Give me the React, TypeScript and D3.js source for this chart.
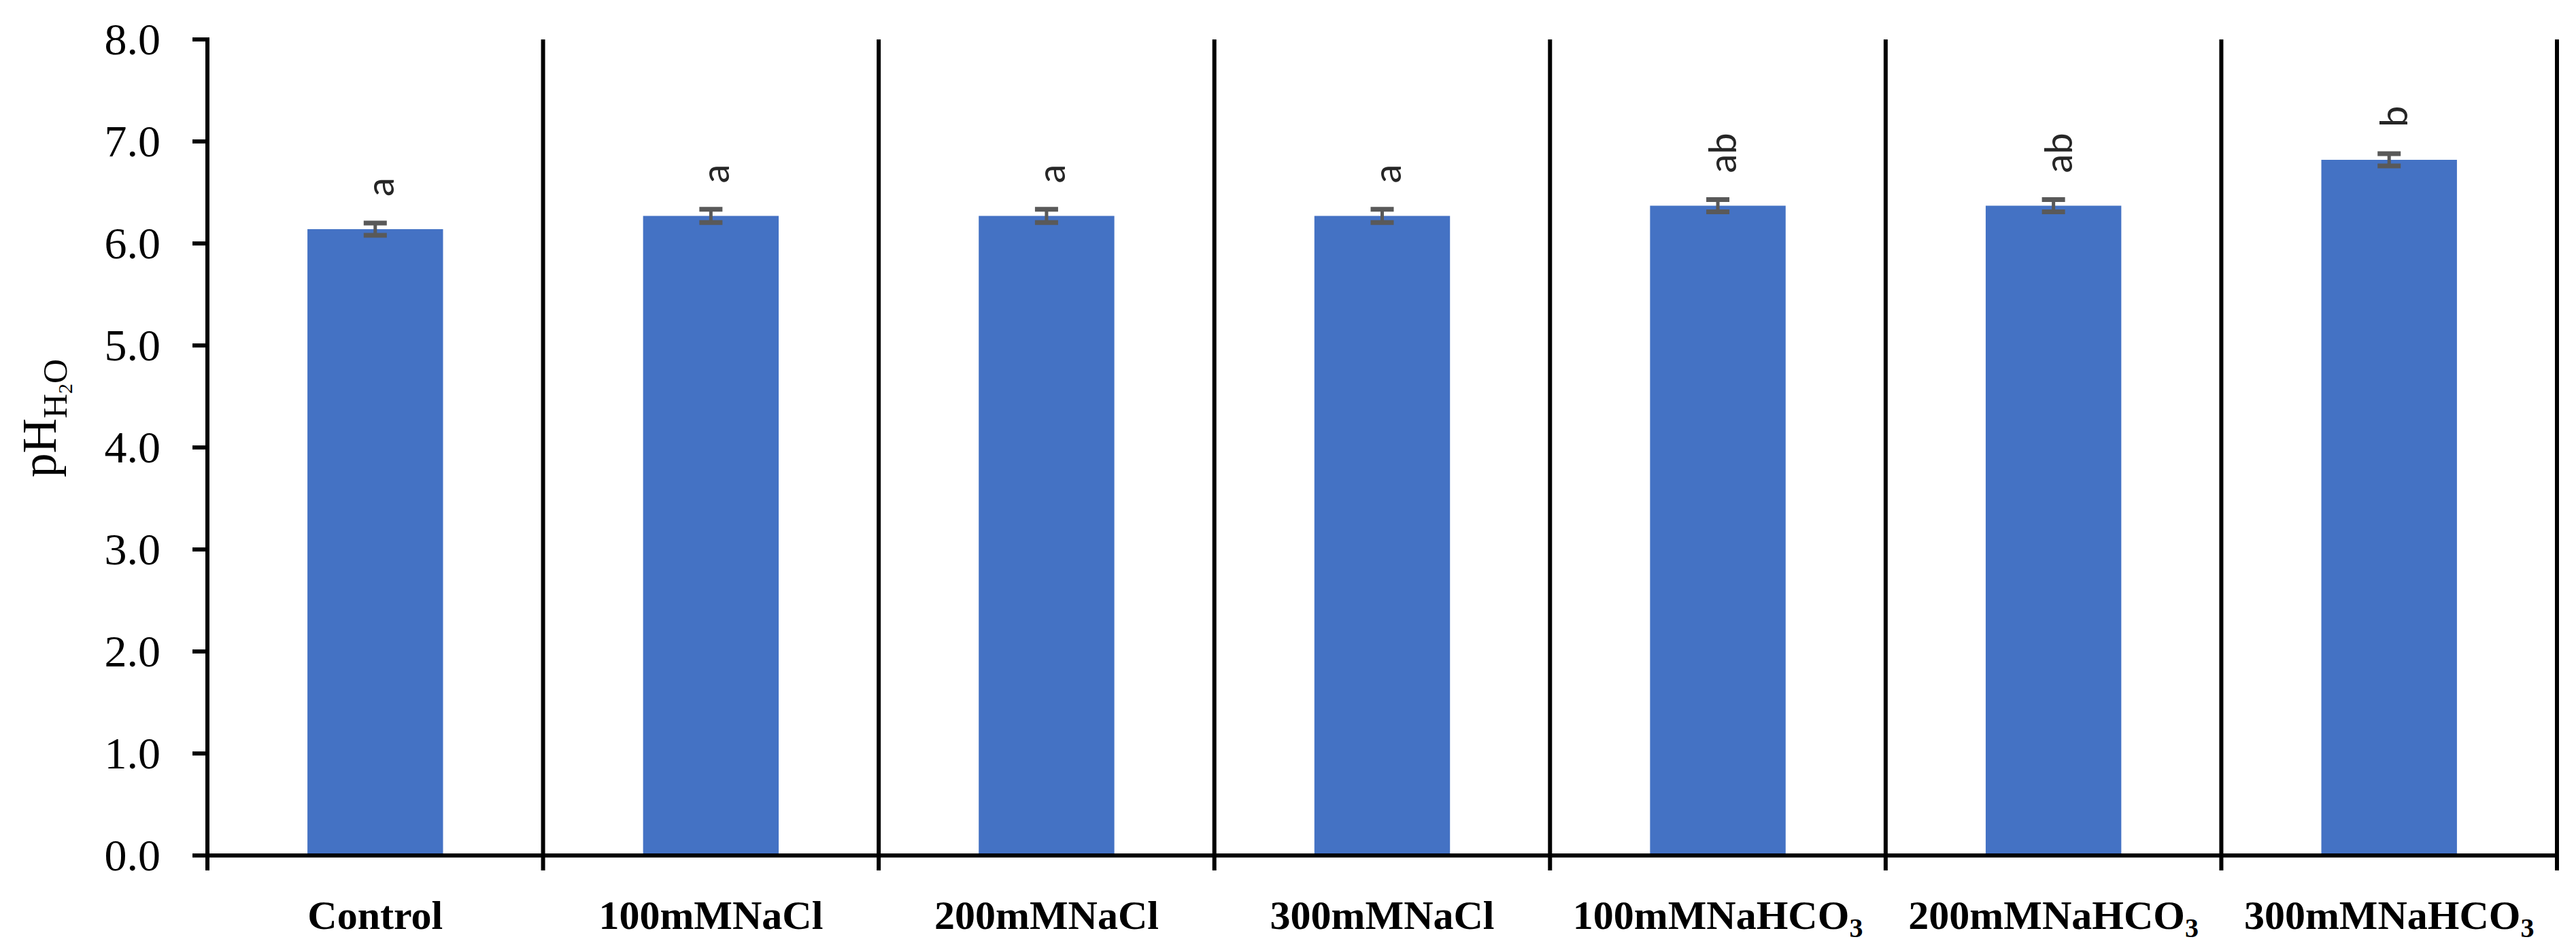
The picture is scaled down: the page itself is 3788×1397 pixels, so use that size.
import { format, range, scaleBand, scaleLinear } from "d3";

const categories = [
  "Control",
  "100mMNaCl",
  "200mMNaCl",
  "300mMNaCl",
  "100mMNaHCO3",
  "200mMNaHCO3",
  "300mMNaHCO3",
];
const means = [6.14, 6.27, 6.27, 6.27, 6.37, 6.37, 6.82];
const errors = [0.06, 0.065, 0.065, 0.065, 0.06, 0.06, 0.06];
const letters = ["a", "a", "a", "a", "ab", "ab", "b"];
const yTicks = range(0, 9, 1);

const W = 3788;
const H = 1397;
const left = 305;
const right = 3760;
const top = 58;
const bottom = 1258;

const serif = '"Palatino Linotype", "Book Antiqua", Palatino, "Liberation Serif", serif';

function CategoryLabel({ text }: { text: string }) {
  // NaHCO3 gets its 3 as a subscript
  const m = text.match(/^(.*HCO)3$/);
  if (!m) return <>{text}</>;
  return (
    <>
      {m[1]}
      <tspan fontSize={40} dy={12}>
        3
      </tspan>
    </>
  );
}

export default function App() {
  const x = scaleBand<string>().domain(categories).range([left, right]).padding(0);
  const y = scaleLinear().domain([0, 8]).range([bottom, top]);
  const barW = x.bandwidth() * 0.404;
  const fmt = format(".1f");

  return (
    <svg
      width={W}
      height={H}
      viewBox={`0 0 ${W} ${H}`}
      style={{ position: "absolute", left: 0, top: 0, background: "#fff" }}
    >
      {/* category dividers */}
      {categories.map((c) => (
        <line
          key={`d-${c}`}
          x1={(x(c) ?? 0) + x.bandwidth()}
          x2={(x(c) ?? 0) + x.bandwidth()}
          y1={top}
          y2={bottom + 22}
          stroke="#000"
          strokeWidth={6}
        />
      ))}

      {/* bars */}
      {categories.map((c, i) => {
        const cx = (x(c) ?? 0) + x.bandwidth() / 2;
        return (
          <rect
            key={`b-${c}`}
            x={cx - barW / 2}
            y={y(means[i])}
            width={barW}
            height={y(0) - y(means[i])}
            fill="#4472C4"
          />
        );
      })}

      {/* error bars */}
      {categories.map((c, i) => {
        const cx = (x(c) ?? 0) + x.bandwidth() / 2;
        const hi = y(means[i] + errors[i]);
        const lo = y(means[i] - errors[i]);
        return (
          <g key={`e-${c}`} stroke="#595959">
            <line x1={cx} x2={cx} y1={hi} y2={lo} strokeWidth={5} />
            <line x1={cx - 17} x2={cx + 17} y1={hi} y2={hi} strokeWidth={7} />
            <line x1={cx - 17} x2={cx + 17} y1={lo} y2={lo} strokeWidth={7} />
          </g>
        );
      })}

      {/* significance letters */}
      {categories.map((c, i) => {
        const cx = (x(c) ?? 0) + x.bandwidth() / 2;
        return (
          <text
            key={`l-${c}`}
            transform={`translate(${cx + 27},${y(means[i]) - 48}) rotate(-90)`}
            fontFamily='Lato, "Open Sans", sans-serif'
            fontSize={56}
            fill="#262626"
          >
            {letters[i]}
          </text>
        );
      })}

      {/* y axis */}
      <line x1={left} x2={left} y1={top - 3} y2={bottom + 22} stroke="#000" strokeWidth={6} />
      {yTicks.map((t) => (
        <g key={`t-${t}`}>
          <line x1={left - 22} x2={left} y1={y(t)} y2={y(t)} stroke="#000" strokeWidth={6} />
          <text
            x={236}
            y={y(t)}
            dy="0.34em"
            textAnchor="end"
            fontFamily={serif}
            fontSize={66}
            fill="#000"
          >
            {fmt(t)}
          </text>
        </g>
      ))}

      {/* x axis */}
      <line x1={left - 3} x2={right + 3} y1={bottom} y2={bottom} stroke="#000" strokeWidth={6} />
      {categories.map((c) => (
        <text
          key={`x-${c}`}
          x={(x(c) ?? 0) + x.bandwidth() / 2}
          y={1366}
          textAnchor="middle"
          fontFamily={serif}
          fontWeight="bold"
          fontSize={60}
          fill="#000"
        >
          <CategoryLabel text={c} />
        </text>
      ))}

      {/* y title: pH with H2O subscript */}
      <text
        transform="translate(82,615) rotate(-90)"
        textAnchor="middle"
        fontFamily={serif}
        fontSize={71}
        fill="#000"
      >
        pH
        <tspan fontSize={50} dy={16}>
          H
        </tspan>
        <tspan fontSize={30} dy={8}>
          2
        </tspan>
        <tspan fontSize={50} dy={-8}>
          O
        </tspan>
      </text>
    </svg>
  );
}
